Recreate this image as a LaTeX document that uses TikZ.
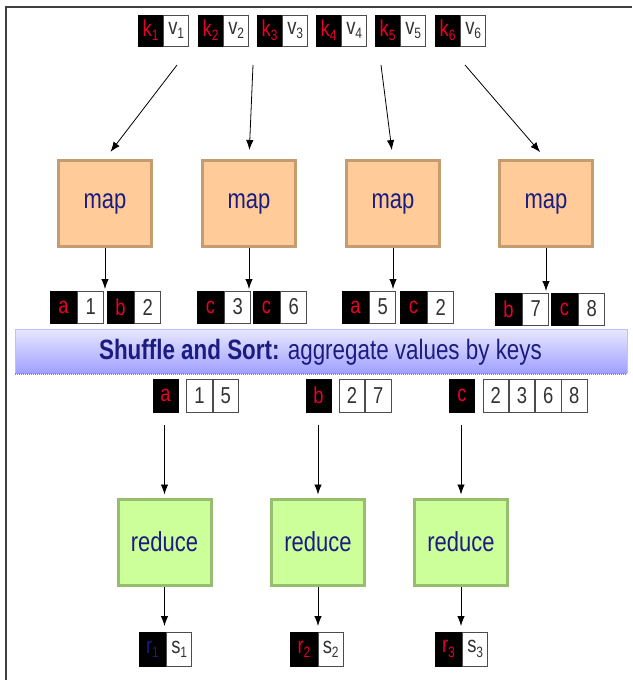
\documentclass[tikz,border=0pt]{standalone}
\usepackage{fontspec}
\newfontfamily\narsans[FakeStretch=0.8]{Liberation Sans}
\usetikzlibrary{arrows.meta}
\definecolor{navy}{RGB}{28,28,128}
\definecolor{keyred}{RGB}{232,0,40}
\definecolor{mapfill}{RGB}{255,204,153}
\definecolor{mapedge}{RGB}{196,156,114}
\definecolor{redfill}{RGB}{204,255,153}
\definecolor{rededge}{RGB}{150,190,110}
\definecolor{bandtop}{RGB}{232,232,255}
\definecolor{bandbot}{RGB}{160,160,255}
\newcommand\lsub[1]{\raisebox{-0.35ex}{\fontsize{15}{15}\selectfont #1}}
\tikzset{
  cell/.style={minimum height=31pt, inner sep=0pt, line width=0.7pt,
    font=\narsans\fontsize{23}{23}\selectfont},
  keycell/.style={cell, fill=black, draw=black, text=keyred, minimum width=25pt},
  valcell/.style={cell, fill=white, draw=black!70, text=black!80, minimum width=25pt},
  stagebox/.style={minimum width=93pt, minimum height=86pt, line width=3pt,
    text=navy, font=\narsans\fontsize{27.5}{27.5}\selectfont},
  mapbox/.style={stagebox, fill=mapfill, draw=mapedge},
  redbox/.style={stagebox, fill=redfill, draw=rededge},
  arr/.style={-{Latex[length=10pt,width=7.5pt]}, line width=0.8pt, black}
}
\begin{document}
\begin{tikzpicture}[x=1pt, y=-1pt]
\useasboundingbox (0,0) rectangle (632,680);
% page frame
\draw[black!75, line width=2pt] (6,680) -- (6,6.5) -- (632,6.5);

% input key/value pairs
\foreach \i/\kx in {1/150.5, 2/210.5, 3/269.5, 4/328.5, 5/387.5, 6/447.5}{
  \node[keycell] (k\i) at (\kx,30.5) {k\lsub{\i}};
  \node[valcell, anchor=west] (v\i) at (k\i.east) {v\lsub{\i}};
}

% map stage
\node[mapbox] (m1) at (105,203.5) {map};
\node[mapbox] (m2) at (249,203.5) {map};
\node[mapbox] (m3) at (393,203.5) {map};
\node[mapbox] (m4) at (546,203.5) {map};

\coordinate (s1) at (177,65);
\coordinate (s2) at (253,65);
\coordinate (s5) at (381,65);
\coordinate (s6) at (465,65);
\draw[arr, shorten >=9pt] (s1) -- (m1.north);
\draw[arr, shorten >=9pt] (s2) -- (m2.north);
\draw[arr, shorten >=9pt] (s5) -- (m3.north);
\draw[arr, shorten >=9pt] (s6) -- (m4.north);

% intermediate pairs
\tikzset{ikey/.style={keycell, minimum width=27pt, minimum height=32pt},
         ival/.style={valcell, minimum width=26pt, minimum height=32pt}}
\node[ikey] (ia) at (63.5,307) {a};  \node[ival, anchor=west] (ia1) at (ia.east) {1};
\node[ikey] (ib) at (120.5,307) {b}; \node[ival, anchor=west] (ib2) at (ib.east) {2};
\node[ikey] (ic) at (210.5,307) {c}; \node[ival, anchor=west] (ic3) at (ic.east) {3};
\node[ikey] (id) at (266.5,307) {c}; \node[ival, anchor=west] (id6) at (id.east) {6};
\node[ikey] (ie) at (355.5,307) {a}; \node[ival, anchor=west] (ie5) at (ie.east) {5};
\node[ikey] (if) at (413.5,307) {c}; \node[ival, anchor=west] (if2) at (if.east) {2};
\node[ikey] (ig) at (508.5,309) {b}; \node[ival, anchor=west] (ig7) at (ig.east) {7};
\node[ikey] (ih) at (564.5,309) {c}; \node[ival, anchor=west] (ih8) at (ih.east) {8};

\coordinate (o1) at (105,289);
\coordinate (o2) at (249,289);
\coordinate (o3) at (393,289);
\coordinate (o4) at (546,291);
\draw[arr] (m1.south) -- (o1);
\draw[arr] (m2.south) -- (o2);
\draw[arr] (m3.south) -- (o3);
\draw[arr] (m4.south) -- (o4);

% shuffle and sort band
\shade[top color=bandtop, bottom color=bandbot] (15,329) rectangle (627,373);
\draw[blue!25, line width=0.6pt] (15,373) -- (15,329) -- (627,329) -- (627,373);
\draw[black!45, line width=1.2pt, dash pattern=on 1pt off 1pt] (15,374) -- (627,374);
\node[text=navy, font=\narsans\fontsize{28}{28}\selectfont] (band) at (320.5,352)
  {\textbf{Shuffle and Sort:} aggregate values by keys};

% grouped values
\tikzset{gkey/.style={keycell, minimum width=25pt, minimum height=33pt},
         gval/.style={valcell, minimum width=25.5pt, minimum height=33pt}}
\node[gkey] (ga) at (165.5,395.5) {a};
\node[gval] (ga1) at (199.5,395.5) {1};
\node[gval, anchor=west] (ga2) at (ga1.east) {5};
\node[gkey] (gb) at (318.5,395.5) {b};
\node[gval] (gb1) at (352,395.5) {2};
\node[gval, anchor=west] (gb2) at (gb1.east) {7};
\node[gkey] (gc) at (462,395.5) {c};
\node[gval] (gc1) at (495.75,395.5) {2};
\node[gval, anchor=west] (gc2) at (gc1.east) {3};
\node[gval, anchor=west] (gc3) at (gc2.east) {6};
\node[gval, anchor=west] (gc4) at (gc3.east) {8};

% reduce stage
\node[redbox] (r1) at (164.5,542) {reduce};
\node[redbox] (r2) at (318,542) {reduce};
\node[redbox] (r3) at (461,542) {reduce};

\coordinate (g1) at (164.5,425);
\coordinate (g2) at (318,425);
\coordinate (g3) at (461,425);
\draw[arr, shorten >=3pt] (g1) -- (r1.north);
\draw[arr, shorten >=3pt] (g2) -- (r2.north);
\draw[arr, shorten >=3pt] (g3) -- (r3.north);

% outputs
\tikzset{okey/.style={keycell, minimum width=27pt, minimum height=34pt},
         oval/.style={valcell, minimum width=25pt, minimum height=34pt}}
\node[okey, text=navy] (p1) at (152.5,649) {r\lsub{1}};
\node[oval, anchor=west] (q1) at (p1.east) {s\lsub{1}};
\node[okey] (p2) at (304,649) {r\lsub{2}};
\node[oval, anchor=west] (q2) at (p2.east) {s\lsub{2}};
\node[okey] (p3) at (448.5,649) {r\lsub{3}};
\node[oval, anchor=west] (q3) at (p3.east) {s\lsub{3}};

\coordinate (t1) at (164.5,626);
\coordinate (t2) at (318,626);
\coordinate (t3) at (461,626);
\draw[arr] (r1.south) -- (t1);
\draw[arr] (r2.south) -- (t2);
\draw[arr] (r3.south) -- (t3);
\end{tikzpicture}
\end{document}
